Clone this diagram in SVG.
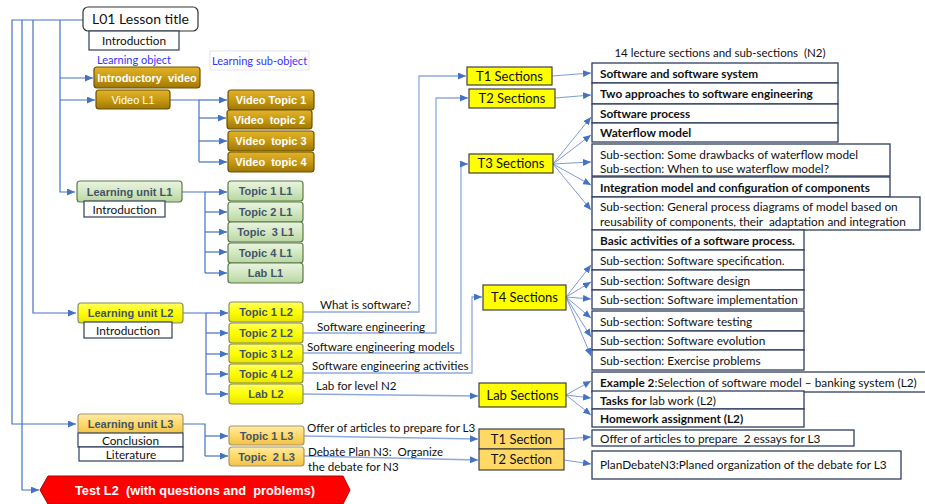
<svg xmlns="http://www.w3.org/2000/svg" width="925" height="504" viewBox="0 0 925 504">
<defs>
<linearGradient id="gGold" x1="0" y1="0" x2="0" y2="1"><stop offset="0" stop-color="#E2B329"/><stop offset="0.5" stop-color="#C89A12"/><stop offset="1" stop-color="#9E7605"/></linearGradient>
<linearGradient id="gGreen" x1="0" y1="0" x2="0" y2="1"><stop offset="0" stop-color="#EAF4E0"/><stop offset="0.5" stop-color="#D3E7C2"/><stop offset="1" stop-color="#B9D5A1"/></linearGradient>
<linearGradient id="gYel" x1="0" y1="0" x2="0" y2="1"><stop offset="0" stop-color="#FFFF66"/><stop offset="0.5" stop-color="#FFFF00"/><stop offset="1" stop-color="#E6E600"/></linearGradient>
<linearGradient id="gOr" x1="0" y1="0" x2="0" y2="1"><stop offset="0" stop-color="#FFEBA8"/><stop offset="0.5" stop-color="#FFD966"/><stop offset="1" stop-color="#EEC24A"/></linearGradient>
<marker id="ar" viewBox="0 0 8 7" refX="8" refY="3.5" markerWidth="8" markerHeight="7" markerUnits="userSpaceOnUse" orient="auto"><path d="M0,0 L8,3.5 L0,7 z" fill="#4472C4"/></marker>
</defs>
<style>
text{white-space:pre}
.c{fill:none;stroke:#4472C4;stroke-width:1.2}
.cl{fill:none;stroke:#8FAADC;stroke-width:1.3}
.ct{fill:none;stroke:#6F8FD0;stroke-width:0.9}
.gold{fill:url(#gGold);stroke:#6B5200;stroke-width:1.2}
.green{fill:url(#gGreen);stroke:#5A7A48;stroke-width:1.2}
.yel{fill:url(#gYel);stroke:#8C8C5A;stroke-width:1.2}
.or{fill:url(#gOr);stroke:#A8966A;stroke-width:1.2}
.wb{fill:#fff;stroke:#2F3E5C;stroke-width:1.2}
.lb{fill:#fff;stroke:#2F3E5C;stroke-width:1.3}
.ts{fill:#FFFF00;stroke:#404040;stroke-width:1.2}
.ts2{fill:#FFD966;stroke:#404040;stroke-width:1.2}
.bt{font-family:"Liberation Sans",Arial,sans-serif;font-weight:bold;font-size:11px;text-anchor:middle}
.wt{fill:#fff}
.dt{fill:#44546A}
.cal{font-family:Lato,"Liberation Sans",sans-serif;font-size:11.8px;fill:#111}
.lab{font-size:11.6px}
.cb{font-weight:bold}
.mid{text-anchor:middle}
</style>

<g id="connectors">
<path class="c" d="M83,20 H12 V424 H76" marker-end="url(#ar)"/>
<path class="c" d="M22,20 V490 H39" marker-end="url(#ar)"/>
<path class="c" d="M33,20 V313 H76" marker-end="url(#ar)"/>
<path class="c" d="M60,20 V192 H75" marker-end="url(#ar)"/>
<path class="c" d="M60,78 H93" marker-end="url(#ar)"/>
<path class="c" d="M60,100 H95" marker-end="url(#ar)"/>
<path class="c" d="M170,100 H199 V162"/>
<path class="c" d="M199,100 H227" marker-end="url(#ar)"/>
<path class="c" d="M199,118 H226" marker-end="url(#ar)"/>
<path class="c" d="M199,141 H227" marker-end="url(#ar)"/>
<path class="c" d="M199,162 H227" marker-end="url(#ar)"/>
<path class="c" d="M182,192 H205 V273"/>
<path class="c" d="M205,192 H227" marker-end="url(#ar)"/>
<path class="c" d="M205,212 H227" marker-end="url(#ar)"/>
<path class="c" d="M205,232 H227" marker-end="url(#ar)"/>
<path class="c" d="M205,252 H227" marker-end="url(#ar)"/>
<path class="c" d="M205,273 H227" marker-end="url(#ar)"/>
<path class="c" d="M183,313 H206 V394"/>
<path class="c" d="M206,313 H228" marker-end="url(#ar)"/>
<path class="c" d="M206,333 H228" marker-end="url(#ar)"/>
<path class="c" d="M206,354 H228" marker-end="url(#ar)"/>
<path class="c" d="M206,374 H228" marker-end="url(#ar)"/>
<path class="c" d="M206,394 H228" marker-end="url(#ar)"/>
<path class="c" d="M183,424 H205 V456"/>
<path class="c" d="M205,436 H228" marker-end="url(#ar)"/>
<path class="c" d="M205,456 H228" marker-end="url(#ar)"/>
<path class="cl" d="M303,312 H419 V76 H466" marker-end="url(#ar)"/>
<path class="cl" d="M303,333 H436 V98 H468" marker-end="url(#ar)"/>
<path class="cl" d="M303,353 H461 V164 H468" marker-end="url(#ar)"/>
<path class="cl" d="M303,373 H472 V297 H482" marker-end="url(#ar)"/>
<path class="cl" d="M303,394 L478,396" marker-end="url(#ar)"/>
<path class="cl" d="M304,436 L478,439" marker-end="url(#ar)"/>
<path class="cl" d="M304,456 L478,460" marker-end="url(#ar)"/>
<path class="ct" d="M552,76 L591,73" marker-end="url(#ar)"/>
<path class="ct" d="M555,98 L591,95" marker-end="url(#ar)"/>
<path class="ct" d="M553,164 L591,117" marker-end="url(#ar)"/>
<path class="ct" d="M553,164 L591,135" marker-end="url(#ar)"/>
<path class="ct" d="M553,164 L591,162" marker-end="url(#ar)"/>
<path class="ct" d="M553,164 L591,185" marker-end="url(#ar)"/>
<path class="ct" d="M553,164 L591,210" marker-end="url(#ar)"/>
<path class="ct" d="M566,297 L591,265" marker-end="url(#ar)"/>
<path class="ct" d="M566,297 L591,282" marker-end="url(#ar)"/>
<path class="ct" d="M566,297 L591,299" marker-end="url(#ar)"/>
<path class="ct" d="M566,297 L591,318" marker-end="url(#ar)"/>
<path class="ct" d="M566,297 L591,337" marker-end="url(#ar)"/>
<path class="ct" d="M566,297 L591,356" marker-end="url(#ar)"/>
<path class="ct" d="M566,395 L591,381" marker-end="url(#ar)"/>
<path class="ct" d="M566,395 L591,398" marker-end="url(#ar)"/>
<path class="ct" d="M566,395 L591,415" marker-end="url(#ar)"/>
<path class="ct" d="M564,439 L591,437" marker-end="url(#ar)"/>
<path class="ct" d="M564,460 L591,464" marker-end="url(#ar)"/>
</g>

<g id="connector-labels" class="cal lab">
<text x="320" y="309">What is software?</text>
<text x="317" y="331">Software engineering</text>
<text x="307" y="351">Software engineering models</text>
<text x="312" y="370">Software engineering activities</text>
<text x="316" y="390">Lab for level N2</text>
<text x="307" y="432">Offer of articles to prepare for L3</text>
<text x="308" y="456">Debate Plan N3:  Organize</text>
<text x="308" y="471">the debate for N3</text>
</g>

<g id="lesson-title">
<rect x="83" y="7" width="115" height="24" rx="5" fill="#fff" stroke="#333" stroke-width="1.2"/>
<text class="cal mid" x="140.5" y="24" style="font-size:14px">L01 Lesson title</text>
<rect class="wb" x="89" y="31" width="90" height="19"/>
<text class="cal mid" x="134" y="45">Introduction</text>
</g>

<g id="legend">
<text class="cal" x="97" y="64" style="fill:#3333FF;font-size:11px">Learning object</text>
<rect x="210" y="51" width="99" height="19" fill="#fff" stroke="#E0E4EE" stroke-width="1"/>
<text class="cal mid" x="259.5" y="65" style="fill:#3333FF;font-size:11px">Learning sub-object</text>
</g>

<g id="intro-video"><rect class="gold" x="94" y="67" width="106" height="21" rx="3"/><text class="bt wt" x="147" y="81.5">Introductory  video</text></g>
<g id="video-l1"><rect class="gold" x="96" y="90" width="74" height="19" rx="3"/><text class="bt wt" x="133" y="103.5" style="font-weight:normal">Video L1</text></g>
<g id="video-topic-1"><rect class="gold" x="228" y="90" width="86" height="20" rx="3"/><text class="bt wt" x="271" y="104">Video Topic 1</text></g>
<g id="video-topic-2"><rect class="gold" x="227" y="110" width="85" height="19" rx="3"/><text class="bt wt" x="269.5" y="123.5">Video  topic 2</text></g>
<g id="video-topic-3"><rect class="gold" x="228" y="131" width="86" height="20" rx="3"/><text class="bt wt" x="271" y="145">Video  topic 3</text></g>
<g id="video-topic-4"><rect class="gold" x="228" y="152" width="86" height="20" rx="3"/><text class="bt wt" x="271" y="166">Video  topic 4</text></g>

<g id="learning-unit-l1"><rect class="green" x="77" y="181" width="105" height="21" rx="3"/><text class="bt dt" x="129.5" y="195.5">Learning unit L1</text>
<rect class="wb" x="84" y="201" width="81" height="16"/><text class="cal mid" x="124.5" y="213.5">Introduction</text></g>
<g id="topic-1-l1"><rect class="green" x="228" y="181" width="75" height="20" rx="3"/><text class="bt dt" x="265.5" y="195">Topic 1 L1</text></g>
<g id="topic-2-l1"><rect class="green" x="228" y="202" width="75" height="20" rx="3"/><text class="bt dt" x="265.5" y="216">Topic 2 L1</text></g>
<g id="topic-3-l1"><rect class="green" x="228" y="222" width="75" height="20" rx="3"/><text class="bt dt" x="265.5" y="236">Topic  3 L1</text></g>
<g id="topic-4-l1"><rect class="green" x="228" y="243" width="75" height="20" rx="3"/><text class="bt dt" x="265.5" y="257">Topic 4 L1</text></g>
<g id="lab-l1"><rect class="green" x="228" y="263" width="75" height="20" rx="3"/><text class="bt dt" x="265.5" y="277">Lab L1</text></g>

<g id="learning-unit-l2"><rect class="yel" x="78" y="303" width="105" height="20" rx="3"/><text class="bt dt" x="130.5" y="317">Learning unit L2</text>
<rect class="wb" x="84" y="322" width="88" height="16"/><text class="cal mid" x="128" y="334.5">Introduction</text></g>
<g id="topic-1-l2"><rect class="yel" x="229" y="302" width="74" height="20" rx="3"/><text class="bt dt" x="266" y="316">Topic 1 L2</text></g>
<g id="topic-2-l2"><rect class="yel" x="229" y="323" width="74" height="20" rx="3"/><text class="bt dt" x="266" y="337">Topic 2 L2</text></g>
<g id="topic-3-l2"><rect class="yel" x="229" y="344" width="74" height="19" rx="3"/><text class="bt dt" x="266" y="357.5">Topic 3 L2</text></g>
<g id="topic-4-l2"><rect class="yel" x="229" y="364" width="74" height="19" rx="3"/><text class="bt dt" x="266" y="377.5">Topic 4 L2</text></g>
<g id="lab-l2"><rect class="yel" x="229" y="384" width="74" height="20" rx="3"/><text class="bt dt" x="266" y="398">Lab L2</text></g>

<g id="learning-unit-l3"><rect class="or" x="78" y="414" width="105" height="20" rx="3"/><text class="bt dt" x="130.5" y="428">Learning unit L3</text>
<rect class="wb" x="78" y="433" width="105" height="14"/><text class="cal mid" x="130.5" y="444.5">Conclusion</text>
<rect class="wb" x="79" y="447" width="104" height="14"/><text class="cal mid" x="131" y="458.5">Literature</text></g>
<g id="topic-1-l3"><rect class="or" x="229" y="426" width="75" height="19" rx="3"/><text class="bt dt" x="266.5" y="439.5">Topic 1 L3</text></g>
<g id="topic-2-l3"><rect class="or" x="229" y="447" width="75" height="19" rx="3"/><text class="bt dt" x="266.5" y="460.5">Topic  2 L3</text></g>

<g id="test-l2"><polygon points="40,490 48,476 343,476 350,490 343,504 48,504" fill="#FF0000" stroke="#B00000" stroke-width="1"/>
<text class="bt wt" x="195" y="495" style="font-size:12.8px">Test L2  (with questions and  problems)</text></g>

<g id="t1-sections"><rect class="ts" x="467" y="67" width="85" height="18"/><text class="cal mid" x="509.5" y="80.5" style="font-size:13px">T1 Sections</text></g>
<g id="t2-sections"><rect class="ts" x="469" y="89" width="86" height="19"/><text class="cal mid" x="512" y="103" style="font-size:13px">T2 Sections</text></g>
<g id="t3-sections"><rect class="ts" x="469" y="154" width="84" height="19"/><text class="cal mid" x="511" y="168" style="font-size:13px">T3 Sections</text></g>
<g id="t4-sections"><rect class="ts" x="483" y="285" width="83" height="25"/><text class="cal mid" x="524.5" y="302" style="font-size:13px">T4 Sections</text></g>
<g id="lab-sections"><rect class="ts" x="479" y="383" width="87" height="24"/><text class="cal mid" x="522.5" y="399.5" style="font-size:13px">Lab Sections</text></g>
<g id="t1-section"><rect class="ts2" x="479" y="429" width="85" height="20"/><text class="cal mid" x="521.5" y="443.5" style="font-size:13px">T1 Section</text></g>
<g id="t2-section"><rect class="ts2" x="479" y="449" width="85" height="21"/><text class="cal mid" x="521.5" y="464" style="font-size:13px">T2 Section</text></g>

<g id="lecture-list-title"><text class="cal mid" x="720" y="57" style="font-size:11.5px">14 lecture sections and sub-sections  (N2)</text></g>

<g id="s1"><rect class="lb" x="592" y="63" width="246" height="20"/><text class="cal cb" x="600" y="77.5">Software and software system</text></g>
<g id="s2"><rect class="lb" x="592" y="83" width="246" height="21"/><text class="cal cb" x="600" y="98">Two approaches to software engineering</text></g>
<g id="s3"><rect class="lb" x="592" y="104" width="246" height="19"/><text class="cal cb" x="600" y="118">Software process</text></g>
<g id="s4"><rect class="lb" x="592" y="123" width="246" height="19"/><text class="cal cb" x="600" y="137">Waterflow model</text></g>
<g id="s5"><rect class="lb" x="592" y="144" width="298" height="32"/><text class="cal" x="600" y="159">Sub-section: Some drawbacks of waterflow model</text><text class="cal" x="600" y="173">Sub-section: When to use waterflow model?</text></g>
<g id="s6"><rect class="lb" x="592" y="177" width="298" height="20"/><text class="cal cb" x="600" y="191.5">Integration model and configuration of components</text></g>
<g id="s7"><rect class="lb" x="592" y="197" width="328" height="33"/><text class="cal" x="600" y="210.5">Sub-section: General process diagrams of model based on</text><text class="cal" x="600" y="226">reusability of components, their  adaptation and integration</text></g>
<g id="s8"><rect class="lb" x="592" y="230" width="212" height="20"/><text class="cal cb" x="600" y="244.5">Basic activities of a software process.</text></g>
<g id="s9"><rect class="lb" x="592" y="250" width="212" height="20"/><text class="cal" x="600" y="264.5">Sub-section: Software specification.</text></g>
<g id="s10"><rect class="lb" x="592" y="270" width="212" height="20"/><text class="cal" x="600" y="284.5">Sub-section: Software design</text></g>
<g id="s11"><rect class="lb" x="592" y="290" width="212" height="19"/><text class="cal" x="600" y="304">Sub-section: Software implementation</text></g>
<g id="s12"><rect class="lb" x="592" y="311" width="212" height="20"/><text class="cal" x="600" y="325.5">Sub-section: Software testing</text></g>
<g id="s13"><rect class="lb" x="592" y="331" width="212" height="19"/><text class="cal" x="600" y="345">Sub-section: Software evolution</text></g>
<g id="s14"><rect class="lb" x="592" y="350" width="212" height="20"/><text class="cal" x="600" y="364.5">Sub-section: Exercise problems</text></g>
<g id="lab1"><rect class="lb" x="592" y="372" width="340" height="20"/><text class="cal" x="600" y="386.5"><tspan class="cb">Example 2</tspan>:Selection of software model – banking system (L2)</text></g>
<g id="lab2"><rect class="lb" x="592" y="391" width="212" height="18"/><text class="cal" x="600" y="404.5"><tspan class="cb">Tasks for</tspan> lab work (L2)</text></g>
<g id="lab3"><rect class="lb" x="592" y="409" width="212" height="18"/><text class="cal cb" x="600" y="422.5">Homework assignment (L2)</text></g>
<g id="l3-1"><rect class="lb" x="592" y="430" width="262" height="16"/><text class="cal" x="600" y="442.5">Offer of articles to prepare  2 essays for L3</text></g>
<g id="l3-2"><rect class="lb" x="592" y="451" width="309" height="28"/><text class="cal" x="600" y="469">PlanDebateN3:Planed organization of the debate for L3</text></g>
</svg>
